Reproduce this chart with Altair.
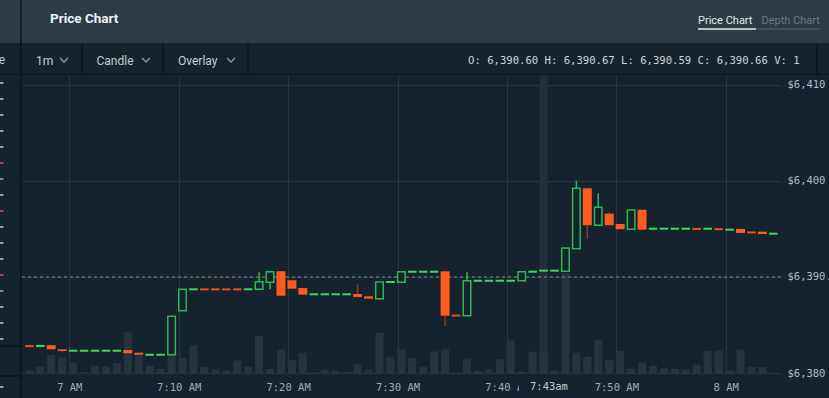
import altair as alt
import pandas as pd

# ---------------- data (minutes after 7:00) ----------------
minutes = list(range(-4, 65))
opens = [6382.82, 6382.80, 6382.88, 6382.47, 6382.31, 6382.31, 6382.31, 6382.31, 6382.31,
         6382.40, 6382.11, 6381.89, 6381.89, 6381.90, 6386.49, 6388.71, 6388.72, 6388.72,
         6388.72, 6388.72, 6388.71, 6388.72, 6389.45, 6390.59, 6389.66, 6388.85, 6388.19,
         6388.19, 6388.19, 6388.19, 6388.23, 6387.99, 6387.74, 6389.47, 6389.45, 6390.54,
         6390.54, 6390.54, 6390.59, 6386.00, 6385.97, 6389.60, 6389.60, 6389.60, 6389.60,
         6389.61, 6390.54, 6390.60, 6390.64, 6390.59, 6392.95, 6399.24, 6395.39, 6396.60,
         6395.52, 6394.97, 6397.00, 6395.02, 6395.02, 6395.02, 6395.02, 6395.03, 6395.02,
         6395.00, 6394.92, 6395.00, 6394.66, 6394.72, 6394.50]
highs = [6382.82, 6382.82, 6382.88, 6382.47, 6382.32, 6382.32, 6382.32, 6382.32, 6382.32,
         6382.40, 6382.11, 6381.90, 6381.90, 6385.90, 6388.72, 6388.72, 6388.72, 6388.72,
         6388.72, 6388.72, 6388.72, 6390.49, 6390.55, 6390.59, 6389.66, 6388.85, 6388.20,
         6388.20, 6388.20, 6388.20, 6389.24, 6387.99, 6389.48, 6389.48, 6390.55, 6390.55,
         6390.55, 6390.55, 6390.59, 6386.00, 6390.52, 6389.61, 6389.61, 6389.61, 6389.61,
         6390.55, 6390.55, 6390.67, 6390.66, 6393.02, 6400.03, 6399.24, 6398.72, 6396.75,
         6395.52, 6396.98, 6397.00, 6395.03, 6395.03, 6395.03, 6395.03, 6395.03, 6395.03,
         6395.00, 6394.93, 6395.00, 6394.66, 6394.72, 6394.51]
lows = [6382.80, 6382.80, 6382.47, 6382.16, 6382.31, 6382.31, 6382.31, 6382.31, 6382.31,
        6382.05, 6381.90, 6381.89, 6381.89, 6381.90, 6386.49, 6388.71, 6388.71, 6388.71,
        6388.71, 6388.71, 6388.71, 6388.72, 6388.72, 6388.05, 6388.78, 6388.16, 6388.19,
        6388.19, 6388.19, 6388.19, 6387.92, 6387.74, 6387.74, 6389.47, 6389.45, 6390.54,
        6390.54, 6390.54, 6384.90, 6385.98, 6385.97, 6389.60, 6389.60, 6389.60, 6389.60,
        6389.61, 6390.54, 6390.59, 6390.64, 6390.59, 6392.95, 6393.96, 6395.39, 6395.39,
        6394.97, 6394.97, 6394.93, 6395.02, 6395.02, 6395.02, 6395.02, 6395.01, 6395.02,
        6394.98, 6394.92, 6394.58, 6394.64, 6394.48, 6394.50]
closes = [6382.80, 6382.82, 6382.47, 6382.29, 6382.32, 6382.32, 6382.32, 6382.32, 6382.32,
          6382.05, 6381.90, 6381.90, 6381.90, 6385.90, 6388.72, 6388.72, 6388.71, 6388.71,
          6388.71, 6388.71, 6388.72, 6389.51, 6390.55, 6388.05, 6388.78, 6388.16, 6388.20,
          6388.20, 6388.20, 6388.20, 6387.92, 6387.74, 6389.48, 6389.48, 6390.55, 6390.55,
          6390.55, 6390.55, 6385.97, 6385.98, 6389.61, 6389.61, 6389.61, 6389.61, 6389.61,
          6390.55, 6390.55, 6390.66, 6390.66, 6393.02, 6399.24, 6395.39, 6397.26, 6395.39,
          6394.97, 6396.98, 6394.93, 6395.03, 6395.03, 6395.03, 6395.03, 6395.01, 6395.03,
          6394.98, 6394.93, 6394.58, 6394.64, 6394.48, 6394.51]
volumes = [0.13, 0.28, 0.81, 0.68, 0.46, 0.03, 0.32, 0.28, 0.44, 1.81, 0.80, 0.32, 0.18,
           0.81, 0.67, 1.24, 0.28, 0.15, 0.10, 0.56, 0.27, 1.66, 0.18, 1.04, 0.59, 0.90,
           0.03, 0.15, 0.10, 0.06, 0.41, 0.15, 1.79, 0.72, 1.04, 0.67, 0.28, 0.96, 1.04,
           0.03, 0.64, 0.09, 0.15, 0.61, 1.44, 0.06, 0.95, 1.00, 0.10, 4.44, 0.90, 0.72,
           1.48, 0.59, 0.99, 0.19, 0.46, 0.32, 0.21, 0.19, 0.15, 0.37, 0.99, 0.99, 0.10,
           1.04, 0.27, 0.27, 0.00]

hover_minute = [43]
hover_price = [6390.00]
x_ticks = [0, 10, 20, 30, 40, 50, 60]
y_ticks = [6380, 6390, 6400, 6410]

df = pd.DataFrame({"minute": minutes, "open": opens, "high": highs,
                   "low": lows, "close": closes, "volume": volumes})

# ---------------- styling ----------------
BG = "#15232e"
HEADER = "#2d3b45"
TOOLBAR = "#16232d"
DIVIDER = "#0c161d"
GRID = "#27363f"
GREEN = "#2fb852"
GREEN_FLAT = "#3fd95f"
RED = "#ff5a1f"
RED_WICK = "#8e3b24"
VOL = "#25333c"
BAND = "#222f38"
MONO = "DejaVu Sans Mono"
SANS = "Roboto"

W, H = 759, 298
xscale = alt.Scale(domain=[-4.32, 65.05], nice=False, zero=False)
yscale = alt.Scale(domain=[6380, 6411.04], nice=False, zero=False)

xaxis = alt.Axis(values=x_ticks, grid=True, gridColor=GRID, domain=False, ticks=False,
                 labelExpr="datum.value == 0 ? '7 AM' : (datum.value == 60 ? '8 AM' : '7:' + datum.value + ' AM')",
                 labelFont=MONO, labelFontSize=10.5, labelColor="#a3abb1",
                 labelBaseline="middle", labelPadding=14, title=None, labelFlush=False)
yaxis = alt.Axis(values=y_ticks, orient="right", grid=True, gridColor=GRID, domain=False,
                 ticks=False, labelAlign="left", labelBaseline="middle", labelPadding=6,
                 labelExpr="datum.value == 6390 ? '$6,390.00' : '$' + format(datum.value, ',')",
                 labelFont=MONO, labelFontSize=10.5, labelColor="#b3bbc1", title=None,
                 labelFlush=False)


def X(f):
    return alt.X(f, type="quantitative", scale=xscale, axis=xaxis)


def Y(f):
    return alt.Y(f, type="quantitative", scale=yscale, axis=yaxis)


base = alt.Chart(df).transform_calculate(
    c="datum.minute + 0.35",
    top="max(datum.open, datum.close)",
    bot="min(datum.open, datum.close)",
    up="datum.close >= datum.open",
    flat="abs(datum.close - datum.open) < 0.1",
)

# highlight band (crosshair column)
band = alt.Chart(pd.DataFrame({"minute": hover_minute})).transform_calculate(
    lo="datum.minute + 0.35 - 0.37", hi="datum.minute + 0.35 + 0.37"
).mark_rect(color=BAND).encode(x=X("lo"), x2="hi", y=alt.value(0), y2=alt.value(H))

vol = base.transform_calculate(lo="datum.c - 0.37", hi="datum.c + 0.37").mark_rect(color=VOL).encode(
    x=X("lo"), x2="hi",
    y=alt.Y("volume:Q", scale=alt.Scale(domain=[0, 13.24], nice=False, zero=True), axis=None),
    y2=alt.datum(0),
)

vol_group = alt.layer(band, vol)

cross = alt.Chart(pd.DataFrame({"price": hover_price})).mark_rule(
    color="#808b92", strokeDash=[3, 3], strokeWidth=1).encode(y=Y("price"))

wick_color = alt.condition("datum.up", alt.value(GREEN), alt.value(RED_WICK))
upper = base.transform_filter("datum.high - datum.top > 0.05").mark_rule(strokeWidth=1.5).encode(
    x=X("c"), y=Y("top"), y2="high", color=wick_color)
lower = base.transform_filter("datum.bot - datum.low > 0.05").mark_rule(strokeWidth=1.5).encode(
    x=X("c"), y=Y("low"), y2="bot", color=wick_color)

green_body = base.transform_filter("!datum.flat && datum.up").transform_calculate(
    lo="datum.c - 0.345", hi="datum.c + 0.345"
).mark_rect(fill=BG, stroke=GREEN, strokeWidth=1.5).encode(x=X("lo"), x2="hi", y=Y("open"), y2="close")

red_body = base.transform_filter("!datum.flat && !datum.up").transform_calculate(
    lo="datum.c - 0.41", hi="datum.c + 0.41"
).mark_rect(color=RED).encode(x=X("lo"), x2="hi", y=Y("open"), y2="close")

flats = base.transform_filter("datum.flat").transform_calculate(
    lo="datum.c - 0.39", hi="datum.c + 0.39"
).mark_rule(strokeWidth=2).encode(
    x=X("lo"), x2="hi", y=Y("close"),
    color=alt.condition("datum.up", alt.value(GREEN_FLAT), alt.value("#ec5220")))

price_group = alt.layer(cross, upper, lower, green_body, red_body, flats)

# ---------------- page chrome (pixel positions relative to plot origin 22,75) ----------------
one = pd.DataFrame({"d": [0]})


def rect(x, x2, y, y2, color):
    return alt.Chart(one).mark_rect(color=color).encode(
        x=alt.value(x - 22), x2=alt.value(x2 - 22), y=alt.value(y - 75), y2=alt.value(y2 - 75))


def line(x, x2, y, y2, color, w=1):
    return alt.Chart(one).mark_rule(color=color, strokeWidth=w).encode(
        x=alt.value(x - 22), x2=alt.value(x2 - 22), y=alt.value(y - 75), y2=alt.value(y2 - 75))


def text(s, x, y, size, color, font=SANS, weight="normal", align="left"):
    return alt.Chart(one).mark_text(text=s, font=font, fontSize=size, color=color,
                                    fontWeight=weight, align=align, baseline="middle").encode(
        x=alt.value(x - 22), y=alt.value(y - 75))


def chevron(x, y):
    return alt.Chart(one).mark_point(shape="M-1,-0.5L0,0.5L1,-0.5", filled=False, size=60,
                                     stroke="#8a959c", strokeWidth=1.5, opacity=1).encode(
        x=alt.value(x - 22), y=alt.value(y - 75))


chrome = [
    rect(0, 829, 0, 43, HEADER),
    rect(0, 829, 43, 74, TOOLBAR),
    line(0, 829, 74.5, 74.5, DIVIDER, 1),
    line(21, 21, 0, 398, DIVIDER, 1.5),
    line(82, 82, 43, 74, DIVIDER, 1.5),
    line(163, 163, 43, 74, DIVIDER, 1.5),
    line(248, 248, 43, 74, DIVIDER, 1.5),
    line(817, 817, 43, 74, DIVIDER, 1.5),
    line(0, 21, 346, 346, DIVIDER, 1.5),
    line(0, 21, 376, 376, DIVIDER, 1.5),
    text("Price Chart", 50, 18.5, 13.5, "#eef1f3", weight="bold"),
    text("Price Chart", 698, 20.5, 11, "#e4e8ea"),
    text("Depth Chart", 761.5, 20.5, 11, "#6c7983"),
    line(698, 756, 29, 29, "#e8ecee", 1.5),
    line(756, 820, 29, 29, "#56636c", 1),
    text("e", 5, 60, 12, "#c3c9cd", align="right"),
    text("1m", 36, 60.5, 12, "#c6ccd0"),
    text("Candle", 96.5, 60.5, 12, "#c6ccd0"),
    text("Overlay", 178, 60.5, 12, "#c6ccd0"),
    chevron(64, 60),
    chevron(146, 60),
    chevron(231, 60),
    text("O: 6,390.60 H: 6,390.67 L: 6,390.59 C: 6,390.66 V: 1", 468, 60.5, 10.6, "#cfd4d7", font=MONO),
]

# cut-off order-book dashes at the far left
dash_y = [83, 99, 115, 131, 147, 163, 179, 195, 211, 227, 243, 259, 275, 291, 307, 323, 339, 387]
dash_c = ["#c8cdd1", "#c8cdd1", "#c8cdd1", "#c8cdd1", "#c8cdd1", "#e0553a", "#e29a8a", "#c8cdd1",
          "#e0553a", "#c8cdd1", "#c8cdd1", "#c8cdd1", "#e0553a", "#e29a8a", "#c8cdd1", "#c8cdd1",
          "#c8cdd1", "#c8cdd1"]
for yy, cc in zip(dash_y, dash_c):
    chrome.append(line(0, 3.5, yy, yy, cc, 1.5))

# crosshair time label box
label_parts = [
    rect(519, 578, 375, 398, BG),
    text("7:43am", 530, 387, 10.5, "#c4cacf", font=MONO),
]

chart = alt.layer(*chrome, vol_group, price_group, *label_parts).resolve_scale(
    y="independent"
).properties(
    width=W, height=H,
    padding={"left": 22, "top": 75, "right": 48, "bottom": 25},
    autosize=alt.AutoSizeParams(type="none"),
    background=BG,
).configure_view(stroke=None)

chart.save("out.html", embed_options={"renderer": "svg", "actions": False})
